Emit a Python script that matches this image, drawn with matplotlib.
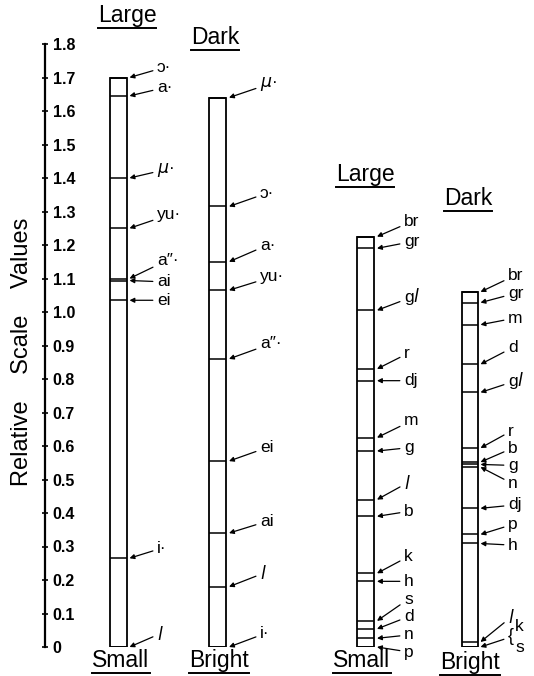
import numpy as np
import matplotlib
matplotlib.use("Agg")
from matplotlib import pyplot as plt
from matplotlib.lines import Line2D

plt.rcParams["font.family"] = ["Liberation Sans", "DejaVu Sans"]
plt.rcParams["mathtext.fontset"] = "dejavusans"

# relative scale values
vowel_size_labels = ["ɔ·", "a·", r"$\mu$·", "yu·", "a″·", "ai", "ei", "i·", "$l$"]
vowel_size_values = [1.70, 1.645, 1.40, 1.25, 1.10, 1.094, 1.035, 0.265, 0.0]

vowel_bright_labels = [r"$\mu$·", "ɔ·", "a·", "yu·", "a″·", "ei", "ai", "$l$", "i·"]
vowel_bright_values = [1.64, 1.315, 1.15, 1.065, 0.86, 0.555, 0.34, 0.18, 0.0]

cons_size_labels = ["br", "gr", "g$l$", "r", "dj", "m", "g", "$l$", "b",
                    "k", "h", "s", "d", "n", "p"]
cons_size_values = [1.225, 1.19, 1.005, 0.83, 0.795, 0.625, 0.585, 0.44, 0.39,
                    0.22, 0.196, 0.078, 0.054, 0.026, 0.0]

cons_bright_labels = ["br", "gr", "m", "d", "g$l$", "r", "b", "g", "n",
                      "dj", "p", "h", "$l$", "k", "s"]
cons_bright_values = [1.06, 1.028, 0.962, 0.844, 0.76, 0.594, 0.552, 0.545, 0.537,
                      0.414, 0.336, 0.309, 0.015, 0.0, 0.0]

tick_values = [0, 0.1, 0.2, 0.3, 0.4, 0.5, 0.6, 0.7, 0.8, 0.9,
               1.0, 1.1, 1.2, 1.3, 1.4, 1.5, 1.6, 1.7, 1.8]
tick_labels = ["0", "0.1", "0.2", "0.3", "0.4", "0.5", "0.6", "0.7", "0.8", "0.9",
               "1.0", "1.1", "1.2", "1.3", "1.4", "1.5", "1.6", "1.7", "1.8"]

# layout (pixels across, value units up)
W, H = 534, 676
Y0_PX, YTOP_PX = 647, 44

columns = [
    {"x": 118, "w": 17, "labels": vowel_size_labels, "values": vowel_size_values,
     "tx": 157, "dy": [0.03, 0.025, 0.025, 0.04, 0.055, -0.004, 0.0, 0.03, 0.04],
     "top": ("Large", 127, 1.886), "bottom": ("Small", 121, -0.04)},
    {"x": 217.5, "w": 17, "labels": vowel_bright_labels, "values": vowel_bright_values,
     "tx": 260, "dy": [0.04, 0.04, 0.05, 0.04, 0.045, 0.04, 0.035, 0.04, 0.04],
     "top": ("Dark", 215, 1.82), "bottom": ("Bright", 219, -0.04)},
    {"x": 365.5, "w": 17, "labels": cons_size_labels, "values": cons_size_values,
     "tx": 404, "dy": [0.045, 0.02, 0.04, 0.045, 0.0, 0.05, 0.01, 0.05, 0.015,
                       0.05, 0.0, 0.065, 0.037, 0.01, -0.015],
     "top": ("Large", 365, 1.41), "bottom": ("Small", 362, -0.04)},
    {"x": 469.5, "w": 16, "labels": cons_bright_labels, "values": cons_bright_values,
     "tx": 508, "dy": [0.05, 0.028, 0.02, 0.05, 0.035, 0.05, 0.042, -0.003, -0.05,
                       0.01, 0.03, -0.005, 0.075, None, None],
     "top": ("Dark", 468, 1.34), "bottom": ("Bright", 470, -0.045)},
]

fig = plt.figure(figsize=(W / 100, H / 100), dpi=100)
bottom = (H - Y0_PX) / H
height = (Y0_PX - YTOP_PX) / H

ax = fig.add_axes([0, bottom, 1, height])
ax.set_xlim(0, W)
ax.set_ylim(0, 1.8)
ax.axis("off")

# the scale on the left
sax = fig.add_axes([45 / W, bottom, 0.0001, height])
sax.set_ylim(0, 1.8)
sax.patch.set_visible(False)
for s in ["top", "right", "bottom"]:
    sax.spines[s].set_visible(False)
sax.spines["left"].set_linewidth(1.6)
sax.set_xticks([])
sax.set_yticks(tick_values)
sax.set_yticklabels(tick_labels, fontweight="bold")
sax.tick_params(axis="y", direction="inout", length=5, width=1.2, left=True, right=False,
                labelleft=False, labelright=True, pad=3, labelsize=11.5)

fig.text(22 / W, 1 - 352 / H, "Relative    Scale    Values", rotation=90,
         ha="center", va="center", fontsize=17)

arrow = dict(arrowstyle="-|>", color="black", lw=0.9, mutation_scale=7,
             shrinkA=1, shrinkB=0)

headings = []
for col in columns:
    xc, w = col["x"], col["w"]
    vals = col["values"]
    ax.bar(xc, max(vals), width=w, bottom=0, fill=False, edgecolor="black", lw=1.3)
    ax.hlines(vals, xc - w / 2, xc + w / 2, color="black", lw=1.1)
    tip_x = xc + w / 2 + 3
    for lab, v, dy in zip(col["labels"], vals, col["dy"]):
        if dy is None:
            continue
        ax.annotate(lab, xy=(tip_x, v), xytext=(col["tx"], v + dy),
                    ha="left", va="center", fontsize=12.5, arrowprops=arrow,
                    annotation_clip=False)
    for name, hx, hy in (col["top"], col["bottom"]):
        headings.append(ax.text(hx, hy, name, ha="center", va="center", fontsize=16.5,
                                clip_on=False))

# k and s share the bottom line of the last column: bracket with one arrow
last = columns[-1]
ax.annotate("{", xy=(last["x"] + last["w"] / 2 + 3, 0.0), xytext=(last["tx"], 0.03),
            ha="left", va="center", fontsize=13, arrowprops=arrow, annotation_clip=False)
ax.text(last["tx"] + 7, 0.062, last["labels"][-2], ha="left", va="center", fontsize=12.5)
ax.text(last["tx"] + 7, 0.0, last["labels"][-1], ha="left", va="center", fontsize=12.5)

# underline the headings
fig.canvas.draw()
r = fig.canvas.get_renderer()
for t in headings:
    bb = t.get_window_extent(r)
    y = bb.y0 - 1
    fig.add_artist(Line2D([bb.x0 / W, bb.x1 / W], [y / H, y / H], color="black", lw=1.4))

fig.savefig("out.png", dpi=100)
